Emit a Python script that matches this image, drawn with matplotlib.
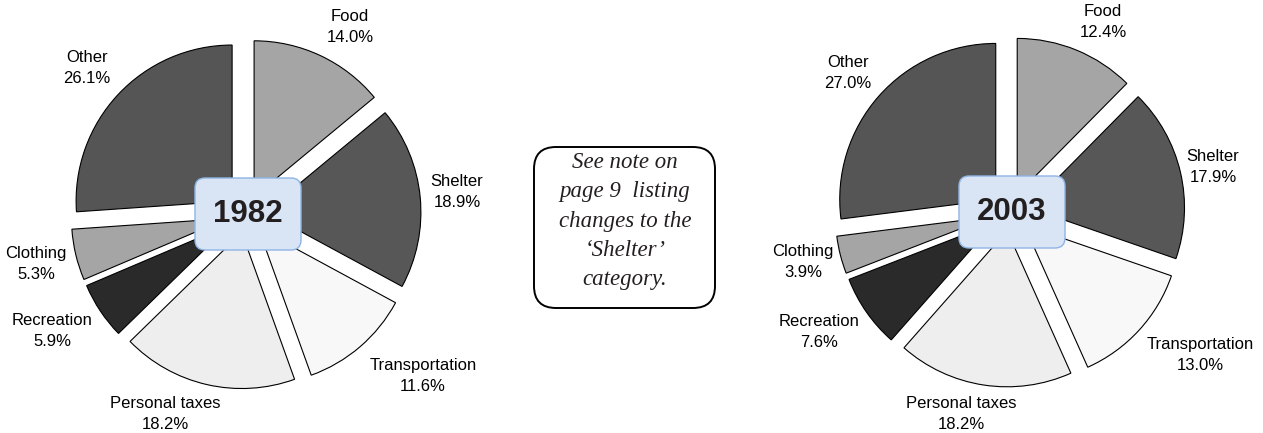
import matplotlib.pyplot as plt
from matplotlib.patches import FancyBboxPatch

# 数据
categories = ['Food', 'Shelter', 'Transportation', 'Personal taxes',
              'Recreation', 'Clothing', 'Other']
share_1982 = [14.0, 18.9, 11.6, 18.2, 5.9, 5.3, 26.1]
share_2003 = [12.4, 17.9, 13.0, 18.2, 7.6, 3.9, 27.0]
years = ['1982', '2003']
note_text = "See note on\npage 9  listing\nchanges to the\n\u2018Shelter\u2019\ncategory."

colors = ['#a5a5a5', '#575757', '#f8f8f8', '#eeeeee', '#2a2a2a', '#a5a5a5', '#555555']

W, H = 1263, 433
fig = plt.figure(figsize=(W / 100, H / 100), dpi=100)
ax = fig.add_axes([0, 0, 1, 1])

# 布局（像素坐标，y 从上往下）
pie_centers = [(246, 214), (1010, 212)]
radius = 156
explode_px = 19
label_pos = [
    [(350, 27), (457, 192), (423, 376), (165, 414), (52, 331), (36, 264), (87, 68)],
    [(1103, 22), (1213, 167), (1200, 355), (961, 414), (819, 332), (803, 262), (848, 73)],
]

for k, values in enumerate([share_1982, share_2003]):
    cx, cy = pie_centers[k]
    # explode 在 matplotlib 里是数据单位，不按半径缩放
    ax.pie(values, colors=colors, startangle=90, counterclock=False,
           explode=[explode_px] * len(values), center=(cx, H - cy), radius=radius,
           wedgeprops=dict(edgecolor='black', linewidth=0.8))
    for (lx, ly), name, v in zip(label_pos[k], categories, values):
        ax.text(lx, H - ly, f'{name}\n{v:.1f}%', ha='center', va='center',
                fontsize=12, family='Liberation Sans', linespacing=1.45)
    # 年份标签框
    bw, bh = 100, 66
    box = FancyBboxPatch((cx + 2 - bw / 2, H - cy - bh / 2), bw, bh,
                         boxstyle='round,pad=3,rounding_size=10',
                         facecolor='#d9e5f4', edgecolor='#8fb4e3', linewidth=1.0, zorder=5)
    ax.add_patch(box)
    ax.text(cx + 2, H - cy, years[k], ha='center', va='center', fontsize=22.5,
            fontweight='bold', family='Liberation Sans', color='#231f20', zorder=6)

# 中间注释框
note = FancyBboxPatch((534, H - 308), 181, 161, boxstyle='round,pad=0,rounding_size=22',
                      facecolor='white', edgecolor='black', linewidth=1.4)
ax.add_patch(note)
ax.text(625, H - 221, note_text, ha='center', va='center', fontsize=16.5,
        family='Liberation Serif', style='italic', linespacing=1.5, color='#231f20')

ax.set_xlim(0, W)
ax.set_ylim(0, H)
ax.set_aspect('equal')
ax.axis('off')

plt.savefig('out.png', dpi=100)
